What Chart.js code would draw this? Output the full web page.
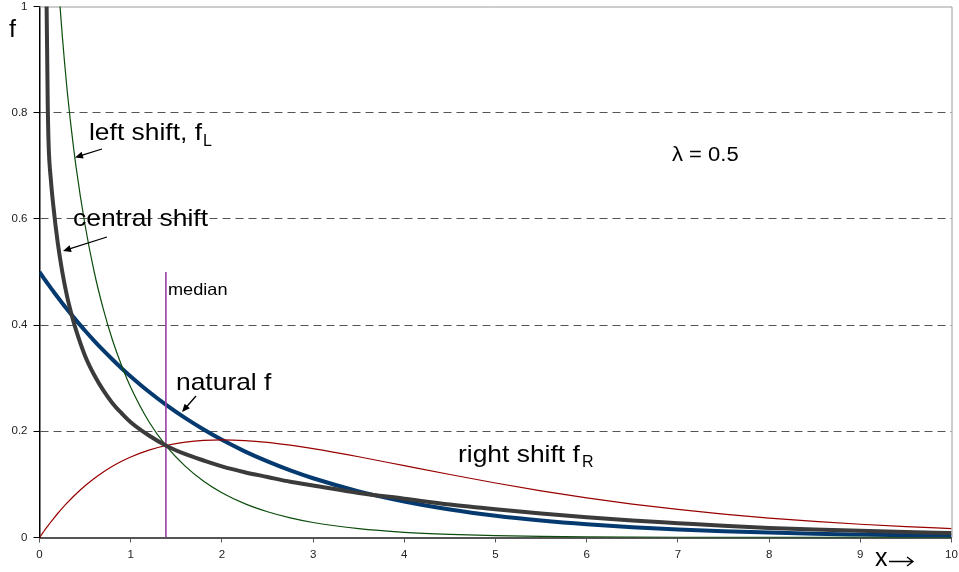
<!DOCTYPE html>
<html>
<head>
<meta charset="utf-8">
<script src="https://cdn.jsdelivr.net/npm/chart.js@4.4.1/dist/chart.umd.min.js"></script>
<style>
  html, body { margin: 0; padding: 0; background: #fff; }
</style>
</head>
<body>
<canvas id="shiftChart" width="959" height="572"></canvas>
<script>
const xValues = [0, 0.05, 0.075, 0.09, 0.1, 0.125, 0.15, 0.2, 0.25, 0.3, 0.35, 0.4, 0.5, 0.6, 0.7, 0.8, 0.9, 1.0,
  1.2, 1.4, 1.6, 1.8, 2.0, 2.25, 2.5, 2.75, 3, 3.5, 4, 4.5, 5, 5.5, 6, 6.5, 7, 7.5, 8, 8.5, 9, 9.5, 10];

const natural = [0.5, 0.4877, 0.4816, 0.4780, 0.4756, 0.4697, 0.4639, 0.4524, 0.4412, 0.4304, 0.4197, 0.4094,
  0.3894, 0.3704, 0.3523, 0.3352, 0.3188, 0.3033, 0.2744, 0.2483, 0.2247, 0.2033, 0.1839, 0.1623, 0.1433,
  0.1264, 0.1116, 0.0869, 0.0677, 0.0527, 0.0410, 0.0320, 0.0249, 0.0194, 0.0151, 0.0118, 0.0092, 0.0071,
  0.0056, 0.0043, 0.0034];

const rightShift = [0, 0.0122, 0.0181, 0.0215, 0.0238, 0.0294, 0.0348, 0.0452, 0.0552, 0.0646, 0.0735, 0.0819,
  0.0974, 0.1111, 0.1233, 0.1341, 0.1435, 0.1516, 0.1646, 0.1738, 0.1797, 0.1830, 0.1839, 0.1826, 0.1791,
  0.1738, 0.1674, 0.1521, 0.1353, 0.1186, 0.1026, 0.0879, 0.0747, 0.0630, 0.0529, 0.0441, 0.0366, 0.0303,
  0.0250, 0.0206, 0.0168];

const leftShift = [null, 1.805, 1.590, 1.493, 1.437, 1.317, 1.219, 1.064, 0.945, 0.848, 0.768, 0.699,
  0.588, 0.500, 0.430, 0.372, 0.324, 0.283, 0.218, 0.170, 0.134, 0.106, 0.0844, 0.0637, 0.0484,
  0.0369, 0.0282, 0.0166, 0.0098, 0.0059, 0.0035, 0.0021, 0.0013, 0.0008, 0.0005, 0.0003, 0.0002, 0.0001,
  0.0001, 0, 0];

const centralShift = [null, null, 1.05, 0.82, 0.74, 0.673, 0.627, 0.555, 0.500, 0.456, 0.421, 0.391,
  0.342, 0.306, 0.277, 0.253, 0.234, 0.217, 0.192, 0.172, 0.157, 0.145, 0.134, 0.123, 0.114,
  0.105, 0.098, 0.084, 0.073, 0.062, 0.053, 0.045, 0.038, 0.032, 0.027, 0.022, 0.018, 0.015,
  0.0125, 0.0103, 0.0084];

const medianX = [1.386, 1.386];
const medianY = [0, 0.5];

const xTickLabels = ['0', '1', '2', '3', '4', '5', '6', '7', '8', '9', '10'];
const yTickLabels = ['0', '0.2', '0.4', '0.6', '0.8', '1'];

const FONT = '"Liberation Sans", Arial, sans-serif';

function toPoints(xs, ys) {
  return xs.map((x, i) => ({ x: x, y: ys[i] }));
}

// texts and pointer arrows drawn over the plot
const notes = [
  { text: 'left shift, f', x: 89, y: 140, size: 24, sx: 1.1 },
  { text: 'L', x: 203, y: 146, size: 16, sx: 1.0 },
  { text: 'central shift', x: 73, y: 226, size: 24, sx: 1.1 },
  { text: 'natural f', x: 176, y: 390, size: 24, sx: 1.1 },
  { text: 'right shift f', x: 458, y: 462, size: 24, sx: 1.1 },
  { text: 'R', x: 582, y: 467, size: 16, sx: 1.0 },
  { text: '\u03bb = 0.5', x: 672, y: 161, size: 20, sx: 1.1 },
  { text: 'median', x: 168, y: 295, size: 16.5, sx: 1.1 },
  { text: 'f', x: 9, y: 36.5, size: 23, sx: 1.1 },
  { text: 'x', x: 875, y: 566, size: 25, sx: 1.0 }
];
const pointers = [
  [102, 149, 75, 157.5],
  [107, 237, 63, 251],
  [196, 396, 182, 412]
];

function arrow(ctx, x1, y1, x2, y2) {
  const a = Math.atan2(y2 - y1, x2 - x1);
  ctx.beginPath();
  ctx.moveTo(x1, y1);
  ctx.lineTo(x2 - 6 * Math.cos(a), y2 - 6 * Math.sin(a));
  ctx.stroke();
  ctx.beginPath();
  ctx.moveTo(x2, y2);
  ctx.lineTo(x2 - 8 * Math.cos(a) + 3.5 * Math.sin(a), y2 - 8 * Math.sin(a) - 3.5 * Math.cos(a));
  ctx.lineTo(x2 - 8 * Math.cos(a) - 3.5 * Math.sin(a), y2 - 8 * Math.sin(a) + 3.5 * Math.cos(a));
  ctx.closePath();
  ctx.fill();
}

const framePlugin = {
  id: 'frame',
  beforeDatasetsDraw(chart) {
    const { ctx, chartArea: a } = chart;
    ctx.save();
    ctx.strokeStyle = '#9a9a9a';
    ctx.lineWidth = 1;
    ctx.beginPath();
    ctx.moveTo(a.left, a.top + 0.5);
    ctx.lineTo(a.right + 0.5, a.top + 0.5);
    ctx.lineTo(a.right + 0.5, a.bottom);
    ctx.stroke();
    ctx.restore();
  }
};

const notesPlugin = {
  id: 'notes',
  afterDraw(chart) {
    const ctx = chart.ctx;
    ctx.save();
    ctx.fillStyle = '#000';
    ctx.strokeStyle = '#000';
    ctx.textBaseline = 'alphabetic';
    ctx.textAlign = 'left';
    notes.forEach(n => {
      ctx.save();
      ctx.translate(n.x, n.y);
      ctx.scale(n.sx, 1);
      ctx.font = n.size + 'px ' + FONT;
      ctx.fillText(n.text, 0, 0);
      ctx.restore();
    });
    ctx.lineWidth = 1.3;
    pointers.forEach(p => arrow(ctx, p[0], p[1], p[2], p[3]));
    // x axis arrow
    ctx.lineWidth = 1.4;
    ctx.beginPath();
    ctx.moveTo(889, 561.5);
    ctx.lineTo(913, 561.5);
    ctx.moveTo(907, 557);
    ctx.lineTo(913, 561.5);
    ctx.lineTo(907, 566);
    ctx.stroke();
    ctx.restore();
  }
};

function renderShiftChart() {
  const ctx = document.getElementById('shiftChart').getContext('2d');
  const line = { pointRadius: 0, fill: false, cubicInterpolationMode: 'monotone', spanGaps: false };

  new Chart(ctx, {
    type: 'line',
    data: {
      datasets: [
        { ...line, label: 'central shift', data: toPoints(xValues, centralShift), borderColor: '#3b3b3b', borderWidth: 4 },
        { ...line, label: 'median', data: toPoints(medianX, medianY), borderColor: '#9b3fa5', borderWidth: 1.6 },
        { ...line, label: 'left shift', data: toPoints(xValues, leftShift), borderColor: '#0b4d0b', borderWidth: 1.2 },
        { ...line, label: 'right shift', data: toPoints(xValues, rightShift), borderColor: '#990000', borderWidth: 1.2 },
        { ...line, label: 'natural f', data: toPoints(xValues, natural), borderColor: '#053a70', borderWidth: 4 }
      ]
    },
    options: {
      responsive: false,
      animation: false,
      layout: { padding: 0 },
      plugins: {
        legend: { display: false },
        tooltip: { enabled: false }
      },
      scales: {
        x: {
          type: 'linear',
          min: 0,
          max: 10,
          ticks: {
            stepSize: 1,
            maxRotation: 0,
            padding: 5,
            color: '#222',
            font: { size: 11.5, family: FONT },
            callback: (v) => xTickLabels[v] ?? ''
          },
          grid: { drawOnChartArea: false, drawTicks: true, tickLength: 5, color: '#555' },
          border: { color: '#555', width: 2 },
          afterFit: (s) => { s.height = 34.5; s.paddingRight = 7.5; s.paddingLeft = 0; }
        },
        y: {
          min: 0,
          max: 1,
          ticks: {
            stepSize: 0.2,
            padding: 6,
            color: '#222',
            font: { size: 11.5, family: FONT },
            callback: (v, i) => yTickLabels[i]
          },
          grid: {
            color: (c) => (c.tick && c.tick.value > 0.01 && c.tick.value < 0.99) ? '#555' : 'rgba(0,0,0,0)',
            tickColor: '#000',
            tickLength: 6,
            tickBorderDash: []
          },
          border: { color: '#000', width: 1.5, dash: [8, 5] },
          afterFit: (s) => { s.width = 39.5; s.paddingTop = 6.5; s.paddingBottom = 0; }
        }
      }
    },
    plugins: [framePlugin, notesPlugin]
  });
}

window.onload = renderShiftChart;
</script>
</body>
</html>
